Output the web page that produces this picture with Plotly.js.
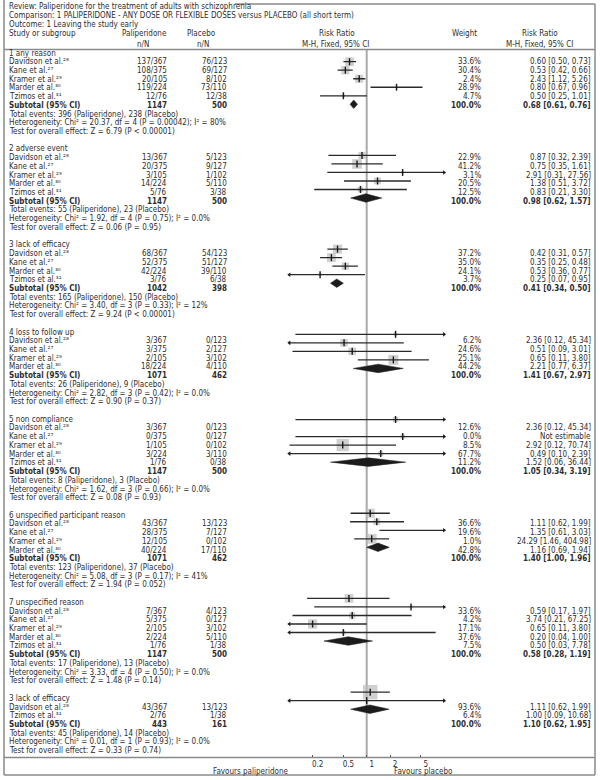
<!DOCTYPE html>
<html><head><meta charset="utf-8">
<script src="https://cdn.plot.ly/plotly-3.0.1.min.js"></script>
<style>html,body{margin:0;padding:0;background:#fff}#chart{width:600px;height:780px}</style>
</head><body><div id="chart"></div>
<script>
// ---------------- DATA ----------------
const reviewTitle = 'Review: Paliperidone for the treatment of adults with schizophrenia';
const comparisonTitle = 'Comparison: 1 PALIPERIDONE - ANY DOSE OR FLEXIBLE DOSES versus PLACEBO (all short term)';
const outcomeTitle = 'Outcome: 1 Leaving the study early';

const sectionTitles = ['1 any reason','2 adverse event','3 lack of efficacy','4 loss to follow up',
  '5 non compliance','6 unspecified participant reason','7 unspecified reason','3 lack of efficacy'];

const studySection = [0,0,0,0,0, 1,1,1,1,1, 2,2,2,2, 3,3,3,3, 4,4,4,4,4, 5,5,5,5, 6,6,6,6,6, 7,7];
const studyName = ['Davidson','Kane','Kramer','Marder','Tzimos',
  'Davidson','Kane','Kramer','Marder','Tzimos',
  'Davidson','Kane','Marder','Tzimos',
  'Davidson','Kane','Kramer','Marder',
  'Davidson','Kane','Kramer','Marder','Tzimos',
  'Davidson','Kane','Kramer','Marder',
  'Davidson','Kane','Kramer','Marder','Tzimos',
  'Davidson','Tzimos'];
const refNumbers = {Davidson:'²⁸', Kane:'²⁷', Kramer:'²⁹', Marder:'³⁰', Tzimos:'³¹'};

const palEvents = [137,108,20,119,12, 13,20,3,14,5, 68,52,42,3, 3,3,2,18, 3,0,1,3,1, 43,28,12,40, 7,5,2,2,1, 43,2];
const palTotal  = [367,375,105,224,76, 367,375,105,224,76, 367,375,224,76, 367,375,105,224, 367,375,105,224,76, 367,375,105,224, 367,375,105,224,76, 367,76];
const placEvents = [76,69,8,73,12, 5,9,1,5,3, 54,51,39,6, 0,2,3,4, 0,0,0,3,0, 13,7,0,17, 4,0,3,5,1, 13,1];
const placTotal  = [123,127,102,110,38, 123,127,102,110,38, 123,127,110,38, 123,127,102,110, 123,127,102,110,38, 123,127,102,110, 123,127,102,110,38, 123,38];
const weightPct = [33.6,30.4,2.4,28.9,4.7, 22.9,41.2,3.1,20.5,12.5, 37.2,35.0,24.1,3.7, 6.2,24.6,25.1,44.2,
  12.6,0.0,8.5,67.7,11.2, 36.6,19.6,1.0,42.8, 33.6,4.2,17.1,37.6,7.5, 93.6,6.4];
const riskRatio = [0.60,0.53,2.43,0.80,0.50, 0.87,0.75,2.91,1.38,0.83, 0.42,0.35,0.53,0.25, 2.36,0.51,0.65,2.21,
  2.36,null,2.92,0.49,1.52, 1.11,1.35,24.29,1.16, 0.59,3.74,0.65,0.20,0.50, 1.11,1.00];
const ciLow = [0.50,0.42,1.12,0.67,0.25, 0.32,0.35,0.31,0.51,0.21, 0.31,0.25,0.36,0.07, 0.12,0.09,0.11,0.77,
  0.12,null,0.12,0.10,0.06, 0.62,0.61,1.46,0.69, 0.17,0.21,0.11,0.04,0.03, 0.62,0.09];
const ciHigh = [0.73,0.66,5.26,0.96,1.01, 2.39,1.61,27.56,3.72,3.30, 0.57,0.48,0.77,0.95, 45.34,3.01,3.80,6.37,
  45.34,null,70.74,2.39,36.44, 1.99,3.03,404.98,1.94, 1.97,67.25,3.80,1.00,7.78, 1.99,10.68];

// in the reference drawing the marks of these two studies are exchanged
const drawnMarkSwap = [[2,3]];

const subPalN  = [1147,1147,1042,1071,1147,1071,1147,443];
const subPlacN = [500,500,398,462,500,462,500,161];
const subRR    = [0.68,0.98,0.41,1.41,1.05,1.40,0.58,1.10];
const subLow   = [0.61,0.62,0.34,0.67,0.34,1.00,0.28,0.62];
const subHigh  = [0.76,1.57,0.50,2.97,3.19,1.96,1.19,1.95];
const totPalEvents  = [396,55,165,26,8,123,17,45];
const totPlacEvents = [238,23,150,9,3,37,13,14];
const hetChi2 = ['20.37','1.92','3.40','2.82','1.62','5.08','3.33','0.01'];
const hetDf   = [4,4,3,3,3,3,4,1];
const hetP    = ['0.00042','0.75','0.33','0.42','0.66','0.17','0.50','0.93'];
const hetI2   = ['80%','0.0%','12%','0.0%','0.0%','41%','0.0%','0.0%'];
const zValue  = ['6.79','0.06','9.24','0.90','0.08','1.94','1.48','0.33'];
const zP      = ['< 0.00001','= 0.95','< 0.00001','= 0.37','= 0.93','= 0.052','= 0.14','= 0.74'];

const axisTicks = [0.1,0.2,0.5,1,2,5];
const axisTickText = ['','0.2','0.5','1','2','5'];

// ---------------- BUILD ----------------
const FONT = '"Liberation Sans Narrow", "Arial Narrow", "DejaVu Sans Condensed", sans-serif';
const TXT = '#2e2e2e';
const XMIN = 0.1, XMAX = 10;
const ann = [];
const py = p => 1 - p/780;
function T(x, r, text, anchor, bold){
  ann.push({xref:'x', yref:'y', x:x, y:r, text: bold ? '<b>'+text+'</b>' : text,
    xanchor:anchor, yanchor:'middle', showarrow:false, borderpad:0, font:{size:8, color:TXT}});
}
function H(x, p, text, anchor){
  ann.push({xref:'x', yref:'paper', x:x, y:py(p), text:text, xanchor:anchor, yanchor:'middle',
    showarrow:false, borderpad:0, font:{size:8, color:TXT}});
}
const X_LEFT = 8, X_PAL = 168, X_PLAC = 228, X_W = 482, X_RR = 592;
const fmt = v => v.toFixed(2);
const rrText = (r,l,h) => r == null ? 'Not estimable' : fmt(r)+' ['+fmt(l)+', '+fmt(h)+']';

const markOf = studyName.map((_, i) => i);
drawnMarkSwap.forEach(([a,b]) => { markOf[a] = b; markOf[b] = a; });

const boxX=[], boxY=[], boxS=[], tickX=[], tickY=[], lineX=[], lineY=[], arrLX=[], arrLY=[], arrRX=[], arrRY=[];
const diamondTraces = [];

let row = 0;
sectionTitles.forEach((title, s) => {
  T(X_LEFT, row, title, 'left');
  row++;
  studyName.forEach((nm, i) => {
    if (studySection[i] !== s) return;
    T(X_LEFT, row, nm + ' et al.' + refNumbers[nm], 'left');
    T(X_PAL, row, palEvents[i] + '/' + palTotal[i], 'right');
    T(X_PLAC, row, placEvents[i] + '/' + placTotal[i], 'right');
    T(X_W, row, weightPct[i].toFixed(1) + '%', 'right');
    T(X_RR, row, rrText(riskRatio[i], ciLow[i], ciHigh[i]), 'right');
    const m = markOf[i];
    if (riskRatio[m] != null) {
      const l = Math.max(ciLow[m], XMIN), h = Math.min(ciHigh[m], XMAX);
      lineX.push(l, h, null); lineY.push(row, row, null);
      if (ciLow[m] < XMIN) { arrLX.push(XMIN); arrLY.push(row); }
      if (ciHigh[m] > XMAX) { arrRX.push(XMAX); arrRY.push(row); }
      if (riskRatio[m] >= XMIN && riskRatio[m] <= XMAX) {
        boxX.push(riskRatio[m]); boxY.push(row); boxS.push(1.5*Math.sqrt(weightPct[m]));
        tickX.push(riskRatio[m]); tickY.push(row);
      }
    }
    row++;
  });
  T(X_LEFT, row, 'Subtotal (95% CI)', 'left', true);
  T(X_PAL, row, String(subPalN[s]), 'right', true);
  T(X_PLAC, row, String(subPlacN[s]), 'right', true);
  T(X_W, row, '100.0%', 'right', true);
  T(X_RR, row, rrText(subRR[s], subLow[s], subHigh[s]), 'right', true);
  diamondTraces.push({
    type:'scatter', mode:'lines', xaxis:'x2', yaxis:'y2', fill:'toself', fillcolor:'#1c1c1c',
    line:{color:'#1c1c1c', width:0.5}, hoverinfo:'skip',
    x:[subLow[s], subRR[s], subHigh[s], subRR[s], subLow[s]],
    y:[row, row-0.5, row, row+0.5, row]
  });
  row++;
  T(X_LEFT, row, 'Total events: ' + totPalEvents[s] + ' (Paliperidone), ' + totPlacEvents[s] + ' (Placebo)', 'left'); row++;
  T(X_LEFT, row, 'Heterogeneity: Chi² = ' + hetChi2[s] + ', df = ' + hetDf[s] + ' (P = ' + hetP[s] + '); I² = ' + hetI2[s], 'left'); row++;
  T(X_LEFT, row, 'Test for overall effect: Z = ' + zValue[s] + ' (P ' + zP[s] + ')', 'left'); row++;
  row++; // blank line
});

// header
H(8, 7, reviewTitle, 'left');
H(8, 15.5, comparisonTitle, 'left');
H(8, 24, outcomeTitle, 'left');
H(8, 33.5, 'Study or subgroup', 'left');
H(144, 33.5, 'Paliperidone', 'center');
H(201, 33.5, 'Placebo', 'center');
H(143, 44, 'n/N', 'center');
H(203, 44, 'n/N', 'center');
H(337, 33.5, 'Risk Ratio', 'center');
H(335, 44, 'M-H, Fixed, 95% CI', 'center');
H(464, 33.5, 'Weight', 'center');
H(540, 33.5, 'Risk Ratio', 'center');
H(539, 44, 'M-H, Fixed, 95% CI', 'center');
H(290, 771.5, 'Favours paliperidone', 'right');
H(393, 771.5, 'Favours placebo', 'left');

const LINE = '#8a8a8a';
const seg = (x0,y0,x1,y1,c,w) => ({type:'line', xref:'x', yref:'paper', x0, x1, y0:py(y0), y1:py(y1), line:{color:c||LINE, width:w||1.5}});
const shapes = [
  seg(235,4,595,4),
  seg(4,0,4,775),
  seg(595,4,595,775),
  seg(4,49.5,595,49.5),
  seg(4,757.5,595,757.5),
  seg(4,775,595,775),
  {type:'line', xref:'x2', yref:'paper', x0:1, x1:1, y0:py(757.5), y1:py(49.5), line:{color:'#a9a9a9', width:2}, layer:'below'}
];

const traces = [
  {type:'scatter', mode:'markers', xaxis:'x2', yaxis:'y2', x:boxX, y:boxY, cliponaxis:false, hoverinfo:'skip',
   marker:{symbol:'square', size:boxS, color:'#bcbcbc', line:{width:0}}},
  {type:'scatter', mode:'lines', xaxis:'x2', yaxis:'y2', x:lineX, y:lineY, connectgaps:false, hoverinfo:'skip',
   line:{color:'#2a2a2a', width:1.3}},
  {type:'scatter', mode:'markers', xaxis:'x2', yaxis:'y2', x:tickX, y:tickY, cliponaxis:false, hoverinfo:'skip',
   marker:{symbol:'line-ns', size:5, line:{color:'#1a1a1a', width:1.4}}},
  {type:'scatter', mode:'markers', xaxis:'x2', yaxis:'y2', x:arrLX, y:arrLY, cliponaxis:false, hoverinfo:'skip',
   marker:{symbol:'triangle-left', size:4, color:'#1a1a1a'}},
  {type:'scatter', mode:'markers', xaxis:'x2', yaxis:'y2', x:arrRX, y:arrRY, cliponaxis:false, hoverinfo:'skip',
   marker:{symbol:'triangle-right', size:4, color:'#1a1a1a'}}
].concat(diamondTraces);

const layout = {
  width:600, height:780, margin:{l:0,r:0,t:0,b:0}, paper_bgcolor:'#fff', plot_bgcolor:'rgba(0,0,0,0)',
  showlegend:false, font:{family:FONT, size:8, color:TXT},
  xaxis:{range:[0,600], domain:[0,1], visible:false, fixedrange:true},
  yaxis:{range:[83.372,-6.078], domain:[0,1], visible:false, fixedrange:true},
  xaxis2:{type:'log', range:[-1,1], domain:[289.3/600, 444.1/600], anchor:'free', position:py(757.5),
    showgrid:false, zeroline:false, showline:false, ticks:'inside', ticklen:3, tickwidth:1, tickcolor:'#555',
    tickvals:axisTicks, ticktext:axisTickText, tickfont:{size:8, color:TXT, family:FONT}, ticklabelshift:5, fixedrange:true},
  yaxis2:{range:[85.31,-6.242], domain:[0,1], anchor:'x2', visible:false, fixedrange:true},
  shapes:shapes, annotations:ann
};
Plotly.newPlot('chart', traces, layout, {staticPlot:true, displayModeBar:false});
</script></body></html>
